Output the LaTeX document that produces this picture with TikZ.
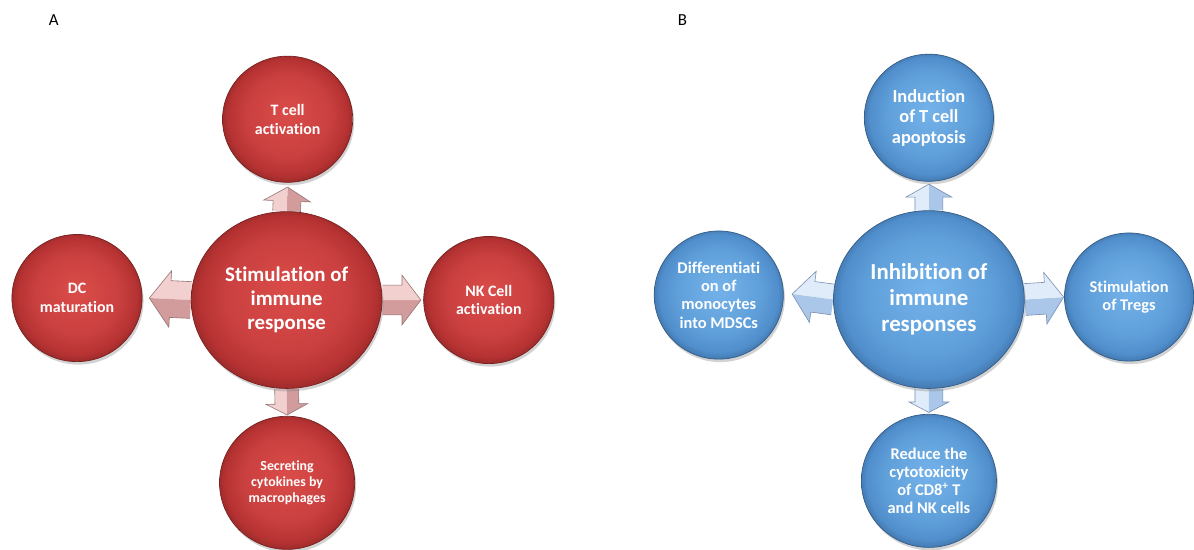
\documentclass[tikz,border=0pt]{standalone}
\usepackage{fontspec}
\setmainfont{Carlito}[Ligatures=NoCommon]
\usetikzlibrary{shapes.geometric,shadows,calc}
\definecolor{rA}{RGB}{218,76,72}
\definecolor{rB}{RGB}{202,64,64}
\definecolor{rC}{RGB}{182,50,50}
\definecolor{rD}{RGB}{140,38,38}
\definecolor{bA}{RGB}{116,178,234}
\definecolor{bB}{RGB}{96,160,218}
\definecolor{bC}{RGB}{80,142,204}
\definecolor{bD}{RGB}{60,108,158}
\definecolor{pL}{RGB}{242,208,208}
\definecolor{pD}{RGB}{210,156,156}
\definecolor{pE}{RGB}{150,115,115}
\definecolor{qL}{RGB}{224,236,250}
\definecolor{qD}{RGB}{170,198,232}
\definecolor{qE}{RGB}{118,142,178}
\pgfdeclareradialshading{redball}{\pgfpoint{0bp}{3bp}}{color(0bp)=(rA); color(16bp)=(rB); color(23bp)=(rC); color(27bp)=(rD); color(30bp)=(rD)}
\pgfdeclareradialshading{blueball}{\pgfpoint{0bp}{3bp}}{color(0bp)=(bA); color(16bp)=(bB); color(23bp)=(bC); color(27bp)=(bD); color(30bp)=(bD)}
\pgfdeclarelayer{back}
\pgfdeclarelayer{bg}
\pgfsetlayers{back,bg,main}
\newcommand{\fs}[2]{\fontsize{#1}{#2}\selectfont}
\tikzset{
  bub/.style={ellipse, text=white, align=center, inner sep=0pt,
    drop shadow={opacity=0.35, shadow xshift=1.5pt, shadow yshift=-3pt}},
  redbub/.style={bub, shading=redball, draw=rD!85!black, line width=0.7pt},
  bluebub/.style={bub, shading=blueball, draw=bD!85!black, line width=0.7pt},
  panellabel/.style={font=\fs{17}{20}, text=black, inner sep=0pt},
}
% #1 colour of one half, #2 colour of other half, #3 edge, #4 start, #5 tip, #6 half shaft, #7 half head, #8 head length
\newcommand{\blockarr}[8]{%
  \path let \p1=($(#5)-(#4)$), \n1={atan2(\y1,\x1)}, \n2={veclen(\x1,\y1)} in
    \pgfextra{\xdef\arrang{\n1}\xdef\arrlen{\n2}};
  \begin{scope}[shift={(#4)}, rotate=\arrang]
    \pgfmathsetmacro\arrb{\arrlen-#8}
    \fill[#1] (0,0) -- (0,#6) -- (\arrb,#6) -- (\arrb,#7) -- (\arrlen,0) -- cycle;
    \fill[#2] (0,0) -- (0,-#6) -- (\arrb,-#6) -- (\arrb,-#7) -- (\arrlen,0) -- cycle;
    \draw[#3, line width=0.6pt, line join=miter] (0,#6) -- (\arrb,#6) -- (\arrb,#7) -- (\arrlen,0)
      -- (\arrb,-#7) -- (\arrb,-#6) -- (0,-#6);
  \end{scope}
}
\begin{document}
\begin{tikzpicture}[x=1pt, y=-1pt]
\begin{pgfonlayer}{back}
\path[use as bounding box, fill=white] (0,0) rectangle (1194,545);
\end{pgfonlayer}

\node[panellabel] (labA) at (54,20) {A};
\node[panellabel] (labB) at (687,20) {B};

% ---------- Panel A ----------
\node[redbub, font=\bfseries\fs{21}{24}, minimum width=192pt, minimum height=178pt] (lC) at (288.5,302)
  {Stimulation of\\immune\\response};
\node[redbub, font=\bfseries\fs{16}{19}, minimum width=131pt, minimum height=127pt] (lT) at (289.5,120)
  {T cell\\activation};
\node[redbub, font=\bfseries\fs{16}{19}, minimum width=131pt, minimum height=128pt] (lL) at (77.5,300)
  {DC\\maturation};
\node[redbub, font=\bfseries\fs{16}{19}, minimum width=131pt, minimum height=128pt] (lR) at (492,302)
  {NK Cell\\activation};
\node[redbub, font=\bfseries\fs{14}{16}, minimum width=136pt, minimum height=134pt] (lB) at (289,486)
  {Secreting\\cytokines by\\macrophages};

% ---------- Panel B ----------
\node[bluebub, font=\bfseries\fs{23}{26}, minimum width=192pt, minimum height=179pt] (rC) at (935,301.5)
  {Inhibition of\\immune\\responses};
\node[bluebub, font=\bfseries\fs{18.5}{20.5}, minimum width=130pt, minimum height=128pt] (rT) at (935,118.5)
  {Induction\\of T cell\\apoptosis};
\node[bluebub, font=\bfseries\fs{16.5}{18.5}, minimum width=130pt, minimum height=129pt] (rL) at (723.5,297)
  {Differentiati\\on of\\monocytes\\into MDSCs};
\node[bluebub, font=\bfseries\fs{16.5}{18.5}, minimum width=130pt, minimum height=129pt] (rR) at (1136.5,299)
  {Stimulation\\of Tregs};
\node[bluebub, font=\bfseries\fs{16.5}{18.3}, minimum width=136pt, minimum height=134pt] (rB) at (935,484)
  {Reduce the\\cytotoxicity\\of CD8\textsuperscript{+} T\\and NK cells};

% arrow end points
\coordinate (aT) at ($(lT.south)+(0,4.5)$);
\coordinate (aL) at ($(lL.east)+(7,0)$);
\coordinate (aR) at ($(lR.west)+(-2.5,0)$);
\coordinate (aB) at ($(lB.north)+(0,-1)$);
\coordinate (bT) at ($(rT.south)+(0,2.5)$);
\coordinate (bL) at ($(rL.east)+(8.5,-1)$);
\coordinate (bR) at ($(rR.west)+(-0.5,0)$);
\coordinate (bB) at ($(rB.north)+(0,-1.5)$);

\begin{pgfonlayer}{bg}
  \blockarr{pD}{pL}{pE}{lC.north}{aT}{14}{23.5}{14}
  \blockarr{pL}{pD}{pE}{lC.west}{aL}{18.5}{28.5}{21}
  \blockarr{pD}{pL}{pE}{lC.east}{aR}{15}{25}{19}
  \blockarr{pL}{pD}{pE}{lC.south}{aB}{12}{21}{11}
  \blockarr{qD}{qL}{qE}{rC.north}{bT}{14}{23}{13}
  \blockarr{qL}{qD}{qE}{rC.west}{bL}{15.5}{26}{21}
  \blockarr{qD}{qL}{qE}{rC.east}{bR}{16}{26}{18.5}
  \blockarr{qL}{qD}{qE}{rC.south}{bB}{14}{20}{10.5}
\end{pgfonlayer}
\end{tikzpicture}
\end{document}
